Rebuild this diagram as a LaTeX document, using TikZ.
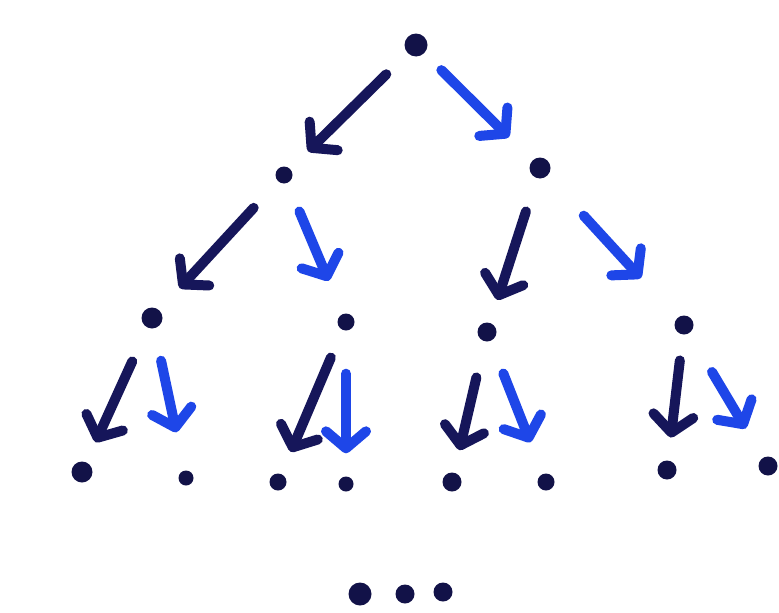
\documentclass[tikz,border=0pt]{standalone}
\usepackage{tikz}
\usetikzlibrary{arrows.meta}
\definecolor{ink}{RGB}{18,18,72}
\definecolor{navy}{RGB}{22,22,90}
\definecolor{marker}{RGB}{30,70,232}

\begin{document}
\begin{tikzpicture}[x=1pt, y=-1pt,
    blob/.style={circle, fill=ink, inner sep=0pt, minimum size=#1},
    lefty/.style={navy, line width=10pt, line cap=round,
        -{Straight Barb[length=17pt, width=40pt, round]}},
    righty/.style={marker, line width=10pt, line cap=round,
        -{Straight Barb[length=17pt, width=40pt, round]}}]
    \useasboundingbox[fill=white] (0,0) rectangle (779,613);

    % Root
    \node[blob=23pt] (r) at (416,45) {};

    % Level 1
    \node[blob=17pt] (a) at (284,175) {};
    \node[blob=21pt] (b) at (540,168) {};

    % Level 2
    \node[blob=21pt] (aa) at (152,318) {};
    \node[blob=17pt] (ab) at (346,322) {};
    \node[blob=19pt] (ba) at (487,332) {};
    \node[blob=19pt] (bb) at (684,325) {};

    % Level 3
    \node[blob=21pt] (aaa) at (82,472) {};
    \node[blob=15pt] (aab) at (186,478) {};
    \node[blob=17pt] (aba) at (278,482) {};
    \node[blob=15pt] (abb) at (346,484) {};
    \node[blob=19pt] (baa) at (452,482) {};
    \node[blob=17pt] (bab) at (546,482) {};
    \node[blob=19pt] (bba) at (667,470) {};
    \node[blob=19pt] (bbb) at (768,466) {};

    % Dots below
    \node[blob=23pt] (e1) at (360,594) {};
    \node[blob=19pt] (e2) at (405,594) {};
    \node[blob=19pt] (e3) at (443,592) {};

    % Arrows
    \foreach \p/\c/\k/\s/\e in {r/a/lefty/30/25, r/b/righty/24/33,
        a/aa/lefty/36/30, a/ab/righty/31/36, b/ba/lefty/35/24, b/bb/righty/54/54,
        aa/aaa/lefty/37/22, aa/aab/righty/33/39, ab/aba/lefty/30/24, ab/abb/righty/43/23,
        ba/baa/lefty/37/23, ba/bab/righty/35/34, bb/bba/lefty/26/23, bb/bbb/righty/45/34}
        \draw[\k, shorten <=\s pt, shorten >=\e pt] (\p) -- (\c);
\end{tikzpicture}
\end{document}
